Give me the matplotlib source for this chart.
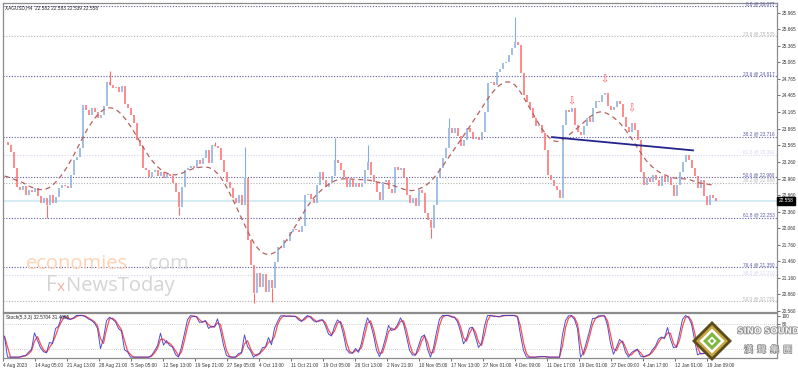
import numpy as np
import pandas as pd
import matplotlib
matplotlib.use("Agg")
import matplotlib.pyplot as plt
import matplotlib.patheffects as pe
from matplotlib.patches import Polygon

# closes sampled every 12 hours (3 H4 bars), XAGUSD
closes = [
    23.62, 23.57, 23.44, 23.15, 22.81, 22.75, 22.82, 22.66, 22.75, 22.72,
    22.79, 22.64, 22.52, 22.61, 22.48, 22.66, 22.52, 22.63, 22.79, 22.84,
    22.82, 22.79, 23.02, 23.30, 23.35, 23.51, 24.29, 24.20, 24.11, 24.24,
    24.17, 24.06, 24.11, 24.27, 24.71, 24.65, 24.60, 24.62, 24.53, 24.64,
    24.31, 24.24, 24.11, 23.97, 23.66, 23.55, 23.15, 23.11, 22.99, 23.08,
    23.11, 23.01, 23.08, 22.97, 23.04, 23.01, 22.88, 22.72, 22.44, 22.81,
    23.11, 23.15, 23.19, 23.15, 23.30, 23.22, 23.33, 23.48, 23.24, 23.57,
    23.55, 23.51, 23.30, 23.08, 22.90, 22.79, 22.61, 22.52, 22.66, 22.48,
    22.97, 21.85, 21.39, 20.89, 21.25, 20.99, 21.23, 20.90, 21.12, 20.98,
    21.45, 21.72, 21.70, 21.85, 21.83, 21.99, 22.05, 22.03, 21.99, 22.10,
    22.66, 22.68, 22.59, 22.52, 22.84, 23.08, 22.93, 22.81, 22.88, 23.01,
    23.30, 23.24, 23.11, 22.99, 22.81, 22.93, 22.81, 22.88, 22.81, 22.88,
    23.11, 23.26, 23.02, 22.90, 22.72, 22.57, 22.90, 22.93, 22.77, 22.70,
    23.17, 23.11, 23.15, 22.97, 22.66, 22.52, 22.61, 22.46, 22.75, 22.70,
    22.34, 22.21, 22.06, 22.48, 22.99, 23.15, 23.33, 23.51, 23.88, 23.78,
    23.88, 23.73, 23.55, 23.66, 23.88, 23.80, 23.68, 23.71, 23.66, 23.80,
    24.17, 24.69, 24.71, 24.65, 24.89, 24.94, 25.05, 25.07, 25.20, 25.32,
    25.43, 25.38, 24.87, 24.47, 24.35, 24.24, 24.06, 23.91, 23.93, 23.78,
    23.48, 23.02, 22.93, 22.82, 22.75, 22.61, 23.93, 24.20, 24.17, 24.24,
    23.93, 23.80, 23.75, 23.91, 24.06, 23.98, 24.24, 24.36, 24.35, 24.47,
    24.51, 24.27, 24.20, 24.26, 24.36, 24.31, 24.07, 23.89, 23.80, 23.97,
    23.84, 23.66, 23.08, 22.84, 22.97, 22.90, 23.02, 22.93, 22.82, 23.01,
    22.90, 22.97, 22.84, 22.64, 22.84, 23.08, 23.26, 23.39, 23.30, 23.15,
    23.01, 22.79, 22.93, 22.64, 22.48, 22.66, 22.61, 22.558,
]
# a few long wicks that stand out
wick_idx = [14, 35, 58, 70, 80, 83, 89, 110, 121, 142, 148, 170]
wick_val = [22.24, 24.90, 22.30, 23.63, 23.53, 20.70, 20.72, 23.69, 23.57, 21.88, 24.06, 25.89]

fib_names = ["0.0", "23.6", "23.6", "38.2", "61.8", "50.0", "38.2", "61.8", "76.4", "38.2", "50.0"]
fib_prices = [26.077, 25.535, 24.817, 23.716, 23.392, 22.980, 22.888, 22.253, 21.350, 21.210, 20.735]
fib_kind = ["navy", "gray", "navy", "navy", "faint", "navy", "gray", "navy", "navy", "faint", "gray"]

trend_idx = [182.5, 229.5]
trend_px = [23.71, 23.47]
arrow_idx = [189, 200, 209]
arrow_px = [24.36, 24.76, 24.24]

price_ticks = [25.965, 25.665, 25.365, 25.065, 24.765, 24.465, 24.165, 23.865, 23.565,
               23.260, 22.960, 22.660, 22.360, 22.060, 21.760, 21.460, 21.160, 20.860, 20.560]
date_labels = ["4 Aug 2023", "14 Aug 05:00", "21 Aug 13:00", "28 Aug 21:00", "5 Sep 05:00",
               "12 Sep 13:00", "19 Sep 21:00", "27 Sep 05:00", "4 Oct 13:00", "11 Oct 21:00",
               "19 Oct 05:00", "26 Oct 13:00", "2 Nov 21:00", "10 Nov 05:00", "17 Nov 13:00",
               "27 Nov 01:00", "4 Dec 09:00", "11 Dec 17:00", "19 Dec 01:00", "27 Dec 09:00",
               "4 Jan 17:00", "12 Jan 01:00", "19 Jan 09:00"]
last_price = 22.558

kind_color = {"navy": "#5a5aa8", "gray": "#b4b4b4", "faint": "#d6d6ee"}
UP, DOWN = "#86aedb", "#ff6b6b"
FS = 3.4
SMALL = ["Liberation Sans", "DejaVu Sans"]

plt.rcParams['font.family'] = ['DejaVu Sans']

c = pd.Series(closes)
idx = np.arange(len(c))
opens = c.shift(1).fillna(c.iloc[0])

# centred triangular average (dashed line)
ma = c.rolling(15, center=True, min_periods=1).mean().rolling(13, center=True, min_periods=1).mean()

# stochastic on the closes
lo = c.rolling(5, min_periods=1).min()
hi = c.rolling(5, min_periods=1).max()
k_main = 100 * (c - lo).rolling(3, min_periods=1).sum() / (hi - lo).rolling(3, min_periods=1).sum().replace(0, np.nan)
k_main = k_main.fillna(50)
k_sig = k_main.rolling(2, min_periods=1).mean()

fig = plt.figure(figsize=(7.98, 3.71), dpi=100)
L, R = 3 / 798, 777 / 798
ax = fig.add_axes([L, 1 - 312 / 371, R - L, (312 - 3) / 371])
ax2 = fig.add_axes([L, 1 - 358 / 371, R - L, (358 - 313) / 371])
xlim = (-0.5, 257.5)

# main panel
ax.set_xlim(*xlim)
ax.set_ylim(20.542, 26.14)
ax.axhline(last_price, color="#d2ebf3", lw=1.3, zorder=1)
for name, p, kd in zip(fib_names, fib_prices, fib_kind):
    col = kind_color[kd]
    ax.axhline(p, color=col, lw=0.8, ls=(0, (1, 1.5)), zorder=1)
    ax.text(0.997, p, f"{name} @ {p:.3f}", transform=ax.get_yaxis_transform(),
            ha="right", va="bottom", fontsize=FS, color=col, family=SMALL)

up = c >= opens
ax.vlines(idx[up], opens[up], c[up], color=UP, lw=1.1, zorder=3)
ax.vlines(idx[~up], opens[~up], c[~up], color=DOWN, lw=1.1, zorder=3)
for i, w in zip(wick_idx, wick_val):
    col = UP if up[i] else DOWN
    ax.vlines(i, c[i], w, color=col, lw=0.8, zorder=3)
ax.plot(idx, ma, color="#b5615f", lw=0.9, ls=(0, (4, 3)), zorder=4)
ax.plot(trend_idx, trend_px, color="#23238c", lw=1.3, zorder=5)
for i, p in zip(arrow_idx, arrow_px):
    ax.text(i, p, "\u21e9", color="#ff5a5a", fontsize=7, ha="center", va="center", zorder=6)

ax.yaxis.tick_right()
ax.set_yticks(price_ticks)
ax.set_yticklabels([f"{t:.3f}" for t in price_ticks], family=SMALL)
ax.tick_params(axis="y", labelsize=FS, length=2, width=0.5, pad=1.2, colors="#333333")
ax.set_xticks([])
ax.text(1.002, last_price, f"{last_price:.3f}", transform=ax.get_yaxis_transform(),
        ha="left", va="center", fontsize=FS, color="white", family=SMALL,
        bbox=dict(boxstyle="square,pad=0.3", fc="black", ec="black"))
ax.text(0.003, 0.993, "XAGUSD,H4  22.582 22.583 22.539 22.558", transform=ax.transAxes,
        fontsize=FS, va="top", ha="left", color="#222222", family=SMALL)

# watermarks
ax.text(0.029, 0.14, "economies", transform=ax.transAxes, fontsize=14.5, color="#ffd2b4",
        family="Open Sans", zorder=2)
ax.text(0.182, 0.14, ".com", transform=ax.transAxes, fontsize=14.5, color="#d8d8d8",
        family="Open Sans", zorder=2)
ax.text(0.056, 0.068, "F", transform=ax.transAxes, fontsize=15, color="#d4d4d4",
        family="Open Sans", zorder=2)
ax.text(0.070, 0.068, "x", transform=ax.transAxes, fontsize=11, color="#f0b0a0",
        family="Open Sans", zorder=2)
ax.text(0.082, 0.068, "NewsToday", transform=ax.transAxes, fontsize=14.5, color="#d4d4d4",
        family="Open Sans", zorder=2)

# stochastic panel
ax2.set_xlim(*xlim)
ax2.set_ylim(-2, 106)
for lv in (20, 80):
    ax2.axhline(lv, color="#c0c0c0", lw=0.6, ls=(0, (1, 1.5)))
ax2.plot(idx, k_sig, color="#ff5050", lw=0.9)
ax2.plot(idx, k_main, color="#3c3cd0", lw=0.7, alpha=0.9)
ax2.yaxis.tick_right()
# 20 and 0 sit under the logo in the reference
ax2.set_yticks([100, 80])
ax2.set_yticklabels(["100", "80"], family=SMALL)
ax2.tick_params(axis="y", labelsize=FS, length=2, width=0.5, pad=1.2, colors="#333333")
ax2.set_xticks(np.arange(len(date_labels)) * 32 / 3 - 0.5)
ax2.set_xticklabels(date_labels, family=SMALL)
for t in ax2.get_xticklabels():
    t.set_horizontalalignment("left")
ax2.tick_params(axis="x", labelsize=FS, length=2, width=0.5, pad=1.5, colors="#333333")
ax2.text(0.004, 0.96, "Stoch(5,3,3) 32.5704 31.4095", transform=ax2.transAxes,
         fontsize=FS, va="top", ha="left", color="#222222", family=SMALL)

for a in (ax, ax2):
    for s in a.spines.values():
        s.set_color("#8c8c8c")
        s.set_linewidth(0.9)

# SINO SOUND logo, drawn on a pixel overlay
ov = fig.add_axes([0, 0, 1, 1], facecolor="none")
ov.set_xlim(0, 798)
ov.set_ylim(371, 0)
ov.axis("off")
cx, cy = 712, 341
for r, col in ((20, "#5a4c1c"), (16, "#c9a642"), (12.5, "#ffffff"), (9, "#7fb843"), (4.5, "#ffffff"), (2.2, "#7fb843")):
    ov.add_patch(Polygon([(cx, cy - r), (cx + r, cy), (cx, cy + r), (cx - r, cy)], closed=True,
                         fc=col, ec="none"))
stroke = [pe.withStroke(linewidth=1.1, foreground="#8a8a8a")]
ov.text(768, 331, "SINO SOUND", fontsize=6.2, weight="bold", color="#f2f2f2",
        ha="center", va="center", path_effects=stroke, family="DejaVu Sans")
ov.text(768, 350, "漢  聲  集  團", fontsize=6.5, color="#f2f2f2", ha="center", va="center",
        path_effects=stroke, family=["Noto Sans CJK TC", "DejaVu Sans"])

fig.savefig("out.png", dpi=100)
